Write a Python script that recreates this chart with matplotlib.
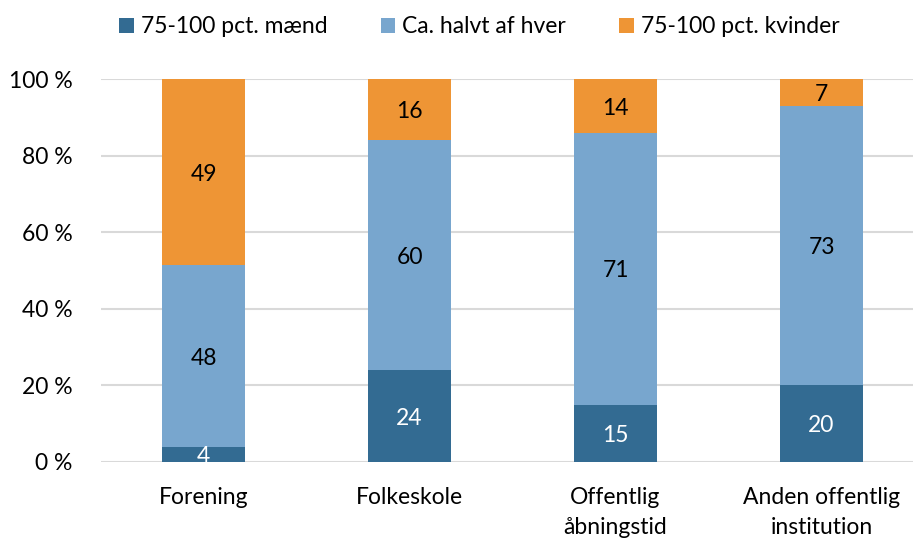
import matplotlib
matplotlib.use("Agg")
import matplotlib.pyplot as plt
import numpy as np

categories = ["Forening", "Folkeskole", "Offentlig\nåbningstid", "Anden offentlig\ninstitution"]
series_names = ["75-100 pct. mænd", "Ca. halvt af hver", "75-100 pct. kvinder"]
maend = [4, 24, 15, 20]
halvt = [48, 60, 71, 73]
kvinder = [49, 16, 14, 7]
yticks = [0, 20, 40, 60, 80, 100]

colors = ["#336B92", "#78A6CE", "#EE9535"]
label_colors = ["white", "black", "black"]

plt.rcParams['font.family'] = ['Lato', 'DejaVu Sans']
FS = 16.5

fig = plt.figure(figsize=(9.13, 5.41), dpi=100)
ax = fig.add_axes([100.5 / 913, 1 - 462 / 541, (913 - 100.5) / 913, (462 - 79) / 541])

data = np.array([maend, halvt, kvinder], dtype=float)
totals = data.sum(axis=0)
pct = data / totals * 100
x = np.arange(len(categories))
bottom = np.zeros(len(categories))
handles = []
for i, name in enumerate(series_names):
    b = ax.bar(x, pct[i], 0.40, bottom=bottom, color=colors[i], label=name, zorder=3)
    handles.append(b)
    for j in range(len(categories)):
        yc = bottom[j] + pct[i][j] / 2
        ax.text(x[j], yc - 0.6, f"{int(data[i][j])}", ha="center", va="center",
                color=label_colors[i], fontsize=FS, zorder=4)
    bottom += pct[i]

ax.set_xlim(-0.5, -0.5 + (913 - 100.5) / 206)
ax.set_ylim(0, 100)
ax.set_yticks(yticks)
ax.set_yticklabels([f"{t} %" for t in yticks], fontsize=FS)
ax.set_xticks(x)
ax.set_xticklabels(categories, fontsize=FS, linespacing=1.5)
ax.tick_params(axis="both", length=0)
ax.tick_params(axis="y", pad=20)
ax.tick_params(axis="x", pad=18)
ax.grid(axis="y", color="#D9D9D9", linewidth=1.5, zorder=0)
for s in ax.spines.values():
    s.set_visible(False)

fig.legend(handles=handles, labels=series_names, loc="center", bbox_to_anchor=(0.525, 1 - 27 / 541),
           ncol=3, frameon=False, fontsize=FS, handlelength=0.65, handleheight=0.65,
           handletextpad=0.3, columnspacing=2.3)

fig.savefig("out.png", dpi=100)
